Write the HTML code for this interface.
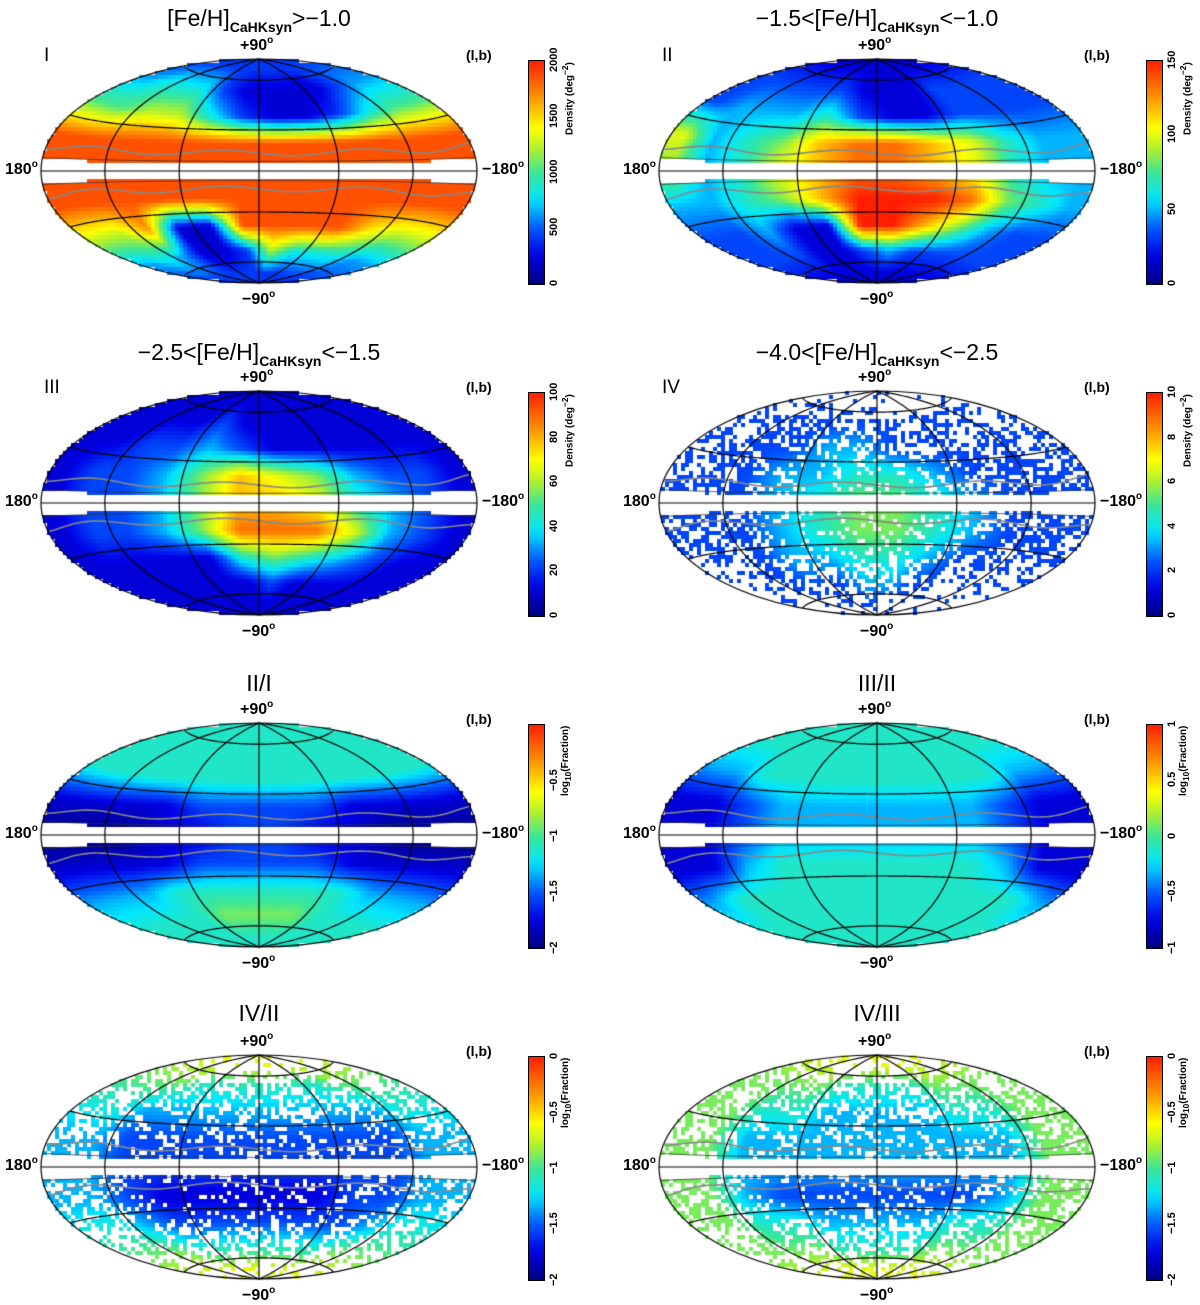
<!DOCTYPE html>
<html><head><meta charset="utf-8">
<style>
html,body{margin:0;padding:0;background:#fff;}
body{width:1200px;height:1302px;position:relative;overflow:hidden;font-family:"Liberation Sans",sans-serif;color:#000;}
.t{position:absolute;font-size:23px;white-space:nowrap;transform:translateX(-50%);}
.t sub{font-size:14px;font-weight:bold;vertical-align:-6px;}
.lab{position:absolute;font-size:16px;font-weight:bold;white-space:nowrap;}
.lab sup{font-size:10px;vertical-align:7px;}
.rom{position:absolute;font-size:19px;}
.cb{position:absolute;width:15px;border:1px solid #000;}
.tk{position:absolute;font-size:11px;font-weight:bold;transform:rotate(-90deg);transform-origin:left top;white-space:nowrap;}
.ct{position:absolute;font-size:10px;font-weight:bold;transform:rotate(-90deg);transform-origin:left top;white-space:nowrap;}
canvas{position:absolute;}
</style></head><body>
<script>
// ---- data for each panel (coarse grids: rows b=80..-80 step 20, cols l=165..-165 step 30; digit 0-9 = colour level) ----
const titles = [
 '[Fe/H]<sub>CaHKsyn</sub>&gt;−1.0',
 '−1.5&lt;[Fe/H]<sub>CaHKsyn</sub>&lt;−1.0',
 '−2.5&lt;[Fe/H]<sub>CaHKsyn</sub>&lt;−1.5',
 '−4.0&lt;[Fe/H]<sub>CaHKsyn</sub>&lt;−2.5',
 'II/I','III/II','IV/II','IV/III'];
const romans = ['I','II','III','IV','','','',''];
const tickLabels = [
 ['0','500','1000','1500','2000'],
 ['0','50','100','150'],
 ['0','20','40','60','80','100'],
 ['0','2','4','6','8','10'],
 ['−2','−1.5','−1','−0.5',''],
 ['−1','−0.5','0','0.5','1'],
 ['−2','−1.5','−1','−0.5','0'],
 ['−2','−1.5','−1','−0.5','0']];
const tickFrac = [
 [0,0.25,0.5,0.75,1],[0,1/3,2/3,1],[0,0.2,0.4,0.6,0.8,1],[0,0.2,0.4,0.6,0.8,1],
 [0,0.25,0.5,0.75,1],[0,0.25,0.5,0.75,1],[0,0.25,0.5,0.75,1],[0,0.25,0.5,0.75,1]];
const cbTitles = ['Density (deg<sup>−2</sup>)','Density (deg<sup>−2</sup>)','Density (deg<sup>−2</sup>)','Density (deg<sup>−2</sup>)',
 'log<sub>10</sub>(Fraction)','log<sub>10</sub>(Fraction)','log<sub>10</sub>(Fraction)','log<sub>10</sub>(Fraction)'];
const grids = [
 ["222222222222","344421111233","556642112455","999999999999","999999999999","999999999999","668119999766","343112644433","222222222222"],
 ["111111111111","222221112222","233342112222","634578876433","534678876433","334579998543","223119975322","222112322222","111111111111"],
 ["111111111111","111121111111","112232111111","122357653221","122357764321","122358886321","111114543211","111111211111","111111111111"],
 ["222222222222","222222222222","222233222222","222334432222","222345543222","222345543222","222334432222","222223322222","222222222222"],
 ["444444444444","444444444444","444444444444","111122221111","000112211000","111122221111","333444444333","444455554444","444444444444"],
 ["444444444444","444444444444","334444444433","112333333211","112333333211","113444444311","344444444443","444444444444","444444444444"],
 ["666666666666","555444444555","443333333344","332222222233","332222222233","332111112233","443222222344","555444444555","666666666666"],
 ["666666666666","555544445555","554433334455","553333333355","553333333355","553222222355","554433334455","555544445555","666666666666"]];
const coverage = [null,null,null,
 ["111111111111","335554433333","446666655444","566788876655","566788876655","566788887655","345677776543","224555543222","111222221111"],
 null,null,
 ["222222222222","445555555544","556666666655","567777777765","567777777765","567888887765","556777777655","445555555544","222222222222"],
 ["333333333333","445555555544","556666666655","567777777765","567777777765","567888887765","556666666655","445555555544","333333333333"]];

const stops=[[0,0,0,130],[0.13,0,0,230],[0.25,0,90,255],[0.38,0,230,255],[0.5,60,230,150],[0.6,170,240,50],[0.7,255,255,0],[0.82,255,160,0],[1,255,30,0]];
function cmap(v){v=Math.max(0,Math.min(1,v));for(let i=1;i<stops.length;i++){if(v<=stops[i][0]){const a=stops[i-1],b=stops[i],t=(v-a[0])/(b[0]-a[0]);return [a[1]+t*(b[1]-a[1]),a[2]+t*(b[2]-a[2]),a[3]+t*(b[3]-a[3])].map(Math.round);}}return [255,30,0];}
function sample(g,l,b){let fc=(180-l)/30-0.5,fr=(90-b)/20-0.5;fc=Math.max(0,Math.min(11,fc));fr=Math.max(0,Math.min(8,fr));
 const c0=Math.floor(fc),r0=Math.floor(fr),c1=Math.min(11,c0+1),r1=Math.min(8,r0+1),tc=fc-c0,tr=fr-r0;
 const v=(r,c)=>+g[r][c];
 return (v(r0,c0)*(1-tc)+v(r0,c1)*tc)*(1-tr)+(v(r1,c0)*(1-tc)+v(r1,c1)*tc)*tr;}
function hash(i,j){let h=(i*73856093)^(j*19349663);h=(h^(h>>>13))*1274126177;h=h^(h>>>16);return ((h>>>0)%1000)/1000;}

const RX=218,RY=112,BS=4;
const cols=[259,877], rowsY=[171,503,835,1167], titleY=[5,339,670,1000];
function proj(l,b){const L=l*Math.PI/180,B=b*Math.PI/180,d=Math.sqrt(1+Math.cos(B)*Math.cos(L/2));
 const X=2*Math.SQRT2*Math.cos(B)*Math.sin(L/2)/d,Y=Math.SQRT2*Math.sin(B)/d;return [-X/(2*Math.SQRT2)*RX,-Y/Math.SQRT2*RY];}
function inv(dx,dy){const X=dx/RX*2*Math.SQRT2,Y=-dy/RY*Math.SQRT2;
 const z=Math.sqrt(Math.max(0,1-(X/4)**2-(Y/2)**2));
 return [-2*Math.atan2(z*X,2*(2*z*z-1))*180/Math.PI,Math.asin(Math.max(-1,Math.min(1,z*Y)))*180/Math.PI];}

for(let p=0;p<8;p++){
 const cx=cols[p%2],cy=rowsY[Math.floor(p/2)],ty=titleY[Math.floor(p/2)],ox=cx-259;
 const t=document.createElement('div');t.className='t';t.style.left=cx+'px';t.style.top=ty+'px';t.innerHTML=titles[p];
 
 
 document.body.appendChild(t);
 if(romans[p]){const r=document.createElement('div');r.className='rom';r.style.left=(44+ox)+'px';r.style.top=(cy-126)+'px';r.textContent=romans[p];
  
  
  document.body.appendChild(r);}
 const labs=[['+90<sup>o</sup>',cx-19,cy-136,'north-pole-label'],['−90<sup>o</sup>',cx-17,cy+118,'south-pole-label'],['180<sup>o</sup>',5+ox,cy-12,'left-longitude-label'],['−180<sup>o</sup>',482+ox,cy-12,'right-longitude-label'],['(l,b)',466+ox,cy-124,'coords-label']];
 for(const [h,x,y,n] of labs){const e=document.createElement('div');e.className='lab';e.style.left=x+'px';e.style.top=y+'px';e.innerHTML=h;
  if(n==='coords-label')e.style.fontSize='14px';
  
  
  document.body.appendChild(e);}
 const cbTop=cy-111,cbH=223,cbX=528+ox;
 const cb=document.createElement('div');cb.className='cb';cb.style.left=cbX+'px';cb.style.top=cbTop+'px';cb.style.height=cbH+'px';
 let gr=[];for(let i=0;i<=20;i++){const c=cmap(i/20);gr.push(`rgb(${c})`+' '+(i*5)+'%');}
 cb.style.background='linear-gradient(to top,'+gr.join(',')+')';
 
 
 document.body.appendChild(cb);
 tickLabels[p].forEach((s,i)=>{const y=cbTop+cbH-tickFrac[p][i]*cbH;const e=document.createElement('div');e.className='tk';e.textContent=s;
  document.body.appendChild(e);const w=e.offsetWidth;e.style.left=(cbX+20)+'px';e.style.top=(y+w/2)+'px';
  
  });
 const ct=document.createElement('div');ct.className='ct';ct.innerHTML=cbTitles[p];document.body.appendChild(ct);
 ct.style.left=(cbX+32)+'px';ct.style.top=(cbTop+ct.offsetWidth+2)+'px';
 
 
 const cv=document.createElement('canvas');cv.width=RX*2+6;cv.height=RY*2+6;cv.style.left=(cx-RX-3)+'px';cv.style.top=(cy-RY-3)+'px';
 
 
 document.body.appendChild(cv);
 const g=cv.getContext('2d');
 const grid=grids[p],cov=coverage[p],scale=p===0?0.93:1;
 for(let by=-Math.ceil(RY/BS);by<=Math.ceil(RY/BS);by++)for(let bx=-Math.ceil(RX/BS);bx<=Math.ceil(RX/BS);bx++){
  const dx=(bx+0.5)*BS,dy=(by+0.5)*BS;if((dx/RX)**2+(dy/RY)**2>1)continue;
  const [l,b]=inv(dx,dy);
  if(Math.abs(b)<6)continue;
  if(cov){const cf=sample(cov,l,b)/9;if(hash(bx+100,by+100)>cf)continue;}
  const c=cmap(sample(grid,l,b)/9*scale);
  g.fillStyle=`rgb(${c})`;g.fillRect(RX+3+bx*BS,RY+3+by*BS,BS,BS);}
 g.translate(RX+3,RY+3);
 const line=(pts,col,w)=>{g.strokeStyle=col;g.lineWidth=w;g.beginPath();pts.forEach((q,i)=>i?g.lineTo(q[0],q[1]):g.moveTo(q[0],q[1]));g.stroke();};
 for(const bb of [13,-13]){const pts=[];for(let l=179;l>=-179;l-=2)pts.push(proj(l,bb+2*Math.sin(l/17)));line(pts,'#888',1.6);}
 for(const bb of [7,-7]){const pts=[];for(let l=179;l>=-179;l-=2)pts.push(proj(l,bb));line(pts,'#333',0.8);}
 for(const bb of [0,30,-30,70,-70]){const pts=[];for(let l=180;l>=-180;l-=2)pts.push(proj(l,bb));line(pts,'#000',1.2);}
 for(const ll of [0,60,-60,120,-120]){const pts=[];for(let b=-90;b<=90;b+=2)pts.push(proj(ll,b));line(pts,'#000',1.2);}
 g.strokeStyle='#000';g.lineWidth=1.2;g.beginPath();g.ellipse(0,0,RX,RY,0,0,Math.PI*2);g.stroke();
}
</script>
</body></html>
